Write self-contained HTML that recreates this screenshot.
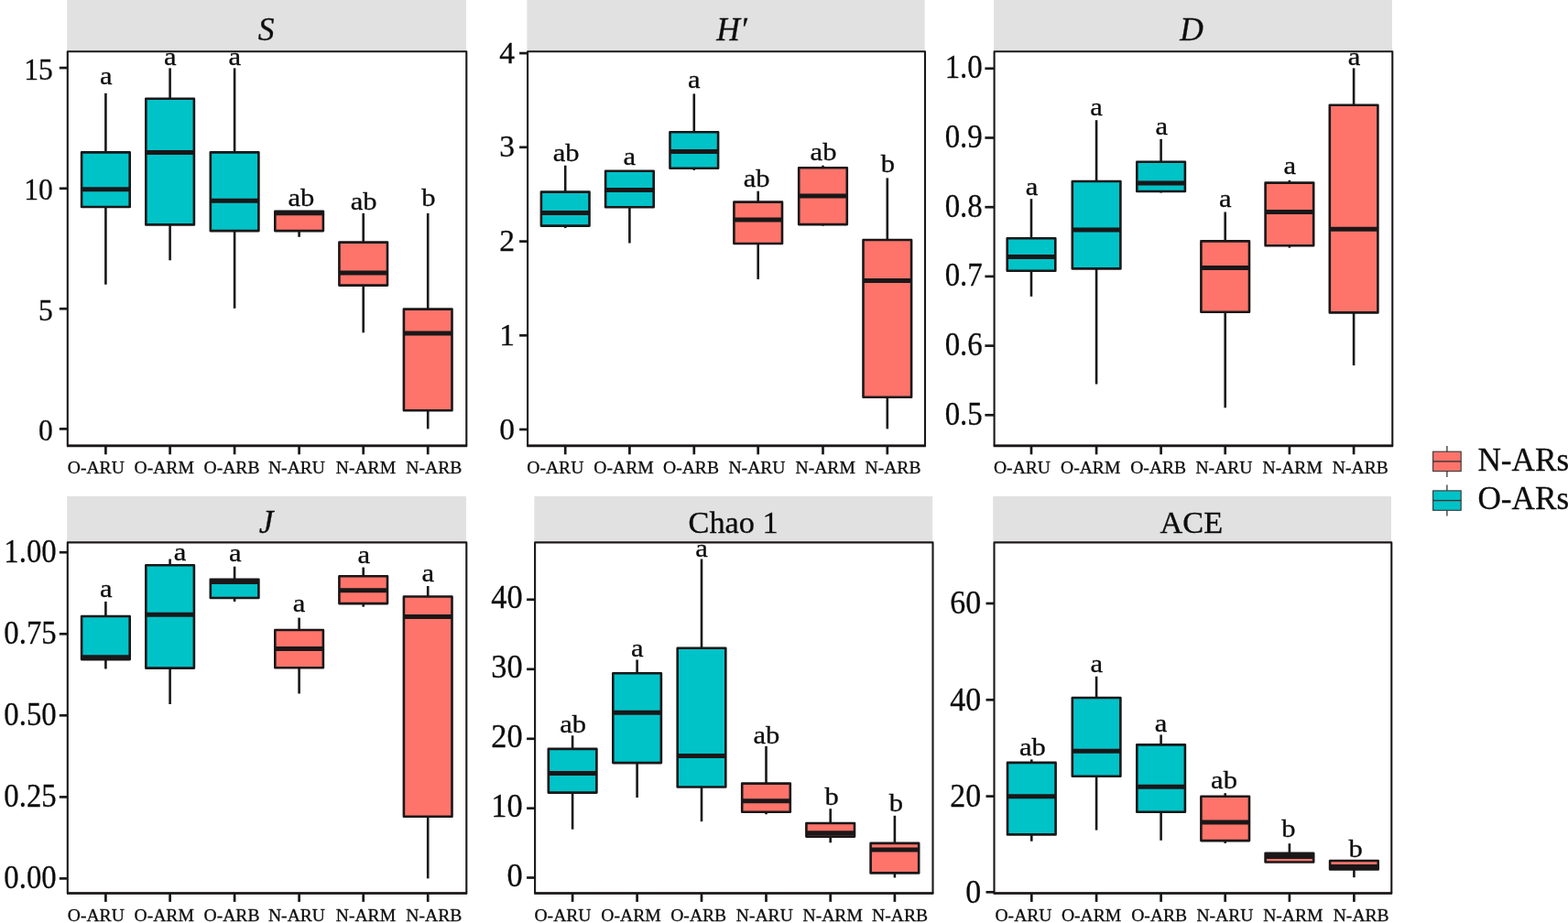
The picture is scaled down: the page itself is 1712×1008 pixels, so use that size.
<!DOCTYPE html>
<html lang="en">
<head>
<meta charset="utf-8">
<title>Diversity indices boxplots</title>
<style>
html,body{margin:0;padding:0;background:#fff;}
body{width:1712px;height:1008px;overflow:hidden;}
svg{display:block;font-family:"Liberation Serif","DejaVu Serif",serif;}
.w{stroke:#1a1718;stroke-width:2.6;fill:none;}
.b{stroke:#1a1718;stroke-width:2.6;stroke-linejoin:round;}
.m{stroke:#1a1718;stroke-width:5.0;}
.t{stroke:#1a1718;stroke-width:2.7;}
text{fill:#0d0d0d;stroke:#0d0d0d;stroke-width:0.3px;}
</style>
</head>
<body>
<svg role="img" aria-label="Box plots of diversity indices (S, H′, D, J, Chao 1, ACE) for O-ARs and N-ARs" width="1712" height="1008" viewBox="0 0 1712 1008">
<rect x="0" y="0" width="1712" height="1008" fill="#fff"/>
<g>
<rect x="73.2" y="0" width="435.8" height="55.6" fill="#E1E1E1"/>
<text x="290.55" y="43.6" font-size="35.5" text-anchor="middle" font-style="italic">S</text>
<rect x="73.8" y="56.2" width="435.5" height="430.7" fill="#fff"/>
<line x1="115.4" x2="115.4" y1="101.8" y2="166.4" class="w"/>
<line x1="115.4" x2="115.4" y1="226" y2="310.7" class="w"/>
<rect x="89.1" y="166.4" width="52.6" height="59.6" fill="#00C3C8" class="b"/>
<line x1="89.1" x2="141.7" y1="206.8" y2="206.8" class="m"/>
<line x1="185.6" x2="185.6" y1="74.4" y2="107.8" class="w"/>
<line x1="185.6" x2="185.6" y1="245.4" y2="284.3" class="w"/>
<rect x="159.3" y="107.8" width="52.6" height="137.6" fill="#00C3C8" class="b"/>
<line x1="159.3" x2="211.9" y1="166.5" y2="166.5" class="m"/>
<line x1="256.1" x2="256.1" y1="74.4" y2="166.4" class="w"/>
<line x1="256.1" x2="256.1" y1="252.1" y2="336.8" class="w"/>
<rect x="229.8" y="166.4" width="52.6" height="85.7" fill="#00C3C8" class="b"/>
<line x1="229.8" x2="282.4" y1="219.3" y2="219.3" class="m"/>
<line x1="326.6" x2="326.6" y1="252.1" y2="258.8" class="w"/>
<rect x="300.3" y="230.8" width="52.6" height="21.3" fill="#FE746B" class="b"/>
<line x1="300.3" x2="352.9" y1="232.8" y2="232.8" class="m"/>
<line x1="396.7" x2="396.7" y1="232.9" y2="264.6" class="w"/>
<line x1="396.7" x2="396.7" y1="311.6" y2="363.3" class="w"/>
<rect x="370.4" y="264.6" width="52.6" height="47" fill="#FE746B" class="b"/>
<line x1="370.4" x2="423" y1="298" y2="298" class="m"/>
<line x1="467.2" x2="467.2" y1="232.9" y2="337.6" class="w"/>
<line x1="467.2" x2="467.2" y1="448.3" y2="468.4" class="w"/>
<rect x="440.9" y="337.6" width="52.6" height="110.7" fill="#FE746B" class="b"/>
<line x1="440.9" x2="493.5" y1="363.9" y2="363.9" class="m"/>
<text transform="translate(115.7 91.8) scale(1.08 1)" font-size="28.3" text-anchor="middle">a</text>
<text transform="translate(185.9 70.6) scale(1.08 1)" font-size="28.3" text-anchor="middle">a</text>
<text transform="translate(256.4 70.6) scale(1.08 1)" font-size="28.3" text-anchor="middle">a</text>
<text transform="translate(328.9 225.4) scale(1.08 1)" font-size="28.3" text-anchor="middle">ab</text>
<text transform="translate(397.1 228.6) scale(1.08 1)" font-size="28.3" text-anchor="middle">ab</text>
<text transform="translate(467.8 225.4) scale(1.08 1)" font-size="28.3" text-anchor="middle">b</text>
<rect x="73.8" y="56.2" width="435.5" height="430.7" fill="none" stroke="#1a1718" stroke-width="2.1" stroke-linejoin="round"/>
<line x1="73" x2="510.1" y1="486.9" y2="486.9" stroke="#1a1718" stroke-width="2.6"/>
<line x1="64.8" x2="73.8" y1="74.1" y2="74.1" class="t"/>
<text transform="translate(57.9 86.6) scale(0.93 1)" font-size="34.0" text-anchor="end">15</text>
<line x1="64.8" x2="73.8" y1="205.8" y2="205.8" class="t"/>
<text transform="translate(57.9 218.3) scale(0.93 1)" font-size="34.0" text-anchor="end">10</text>
<line x1="64.8" x2="73.8" y1="337.2" y2="337.2" class="t"/>
<text transform="translate(57.9 349.7) scale(0.93 1)" font-size="34.0" text-anchor="end">5</text>
<line x1="64.8" x2="73.8" y1="468.4" y2="468.4" class="t"/>
<text transform="translate(57.9 480.9) scale(0.93 1)" font-size="34.0" text-anchor="end">0</text>
<line x1="115.4" x2="115.4" y1="486.9" y2="496.3" class="t"/>
<text x="104.8" y="517.4" font-size="19.6" text-anchor="middle">O-ARU</text>
<line x1="185.6" x2="185.6" y1="486.9" y2="496.3" class="t"/>
<text x="179.2" y="517.4" font-size="19.6" text-anchor="middle">O-ARM</text>
<line x1="256.1" x2="256.1" y1="486.9" y2="496.3" class="t"/>
<text x="253" y="517.4" font-size="19.6" text-anchor="middle">O-ARB</text>
<line x1="326.6" x2="326.6" y1="486.9" y2="496.3" class="t"/>
<text x="324" y="517.4" font-size="19.6" text-anchor="middle">N-ARU</text>
<line x1="396.7" x2="396.7" y1="486.9" y2="496.3" class="t"/>
<text x="399.4" y="517.4" font-size="19.6" text-anchor="middle">N-ARM</text>
<line x1="467.2" x2="467.2" y1="486.9" y2="496.3" class="t"/>
<text x="473.8" y="517.4" font-size="19.6" text-anchor="middle">N-ARB</text>
</g>
<g>
<rect x="575.4" y="0" width="434.3" height="55.6" fill="#E1E1E1"/>
<text x="799.05" y="43.6" font-size="35.5" text-anchor="middle" font-style="italic">H′</text>
<rect x="576.1" y="56.2" width="433.9" height="430.7" fill="#fff"/>
<line x1="617.2" x2="617.2" y1="180.7" y2="209.6" class="w"/>
<line x1="617.2" x2="617.2" y1="246.6" y2="249.1" class="w"/>
<rect x="590.9" y="209.6" width="52.6" height="37" fill="#00C3C8" class="b"/>
<line x1="590.9" x2="643.5" y1="232.4" y2="232.4" class="m"/>
<line x1="687.4" x2="687.4" y1="226.3" y2="265.5" class="w"/>
<rect x="661.1" y="186.8" width="52.6" height="39.5" fill="#00C3C8" class="b"/>
<line x1="661.1" x2="713.7" y1="207.5" y2="207.5" class="m"/>
<line x1="757.8" x2="757.8" y1="102.4" y2="144.3" class="w"/>
<line x1="757.8" x2="757.8" y1="183.8" y2="185.9" class="w"/>
<rect x="731.5" y="144.3" width="52.6" height="39.5" fill="#00C3C8" class="b"/>
<line x1="731.5" x2="784.1" y1="165.5" y2="165.5" class="m"/>
<line x1="827.7" x2="827.7" y1="208.7" y2="220.6" class="w"/>
<line x1="827.7" x2="827.7" y1="266" y2="305" class="w"/>
<rect x="801.4" y="220.6" width="52.6" height="45.4" fill="#FE746B" class="b"/>
<line x1="801.4" x2="854" y1="240" y2="240" class="m"/>
<line x1="898.5" x2="898.5" y1="180.7" y2="183.2" class="w"/>
<line x1="898.5" x2="898.5" y1="245.1" y2="246.6" class="w"/>
<rect x="872.2" y="183.2" width="52.6" height="61.9" fill="#FE746B" class="b"/>
<line x1="872.2" x2="924.8" y1="214.1" y2="214.1" class="m"/>
<line x1="968.8" x2="968.8" y1="194.4" y2="262" class="w"/>
<line x1="968.8" x2="968.8" y1="433.7" y2="468.4" class="w"/>
<rect x="942.5" y="262" width="52.6" height="171.7" fill="#FE746B" class="b"/>
<line x1="942.5" x2="995.1" y1="306.5" y2="306.5" class="m"/>
<text transform="translate(618.2 175.8) scale(1.08 1)" font-size="28.3" text-anchor="middle">ab</text>
<text transform="translate(687.4 179.9) scale(1.08 1)" font-size="28.3" text-anchor="middle">a</text>
<text transform="translate(757.8 95.8) scale(1.08 1)" font-size="28.3" text-anchor="middle">a</text>
<text transform="translate(826.2 203.7) scale(1.08 1)" font-size="28.3" text-anchor="middle">ab</text>
<text transform="translate(899 174.6) scale(1.08 1)" font-size="28.3" text-anchor="middle">ab</text>
<text transform="translate(969.3 187.9) scale(1.08 1)" font-size="28.3" text-anchor="middle">b</text>
<rect x="576.1" y="56.2" width="433.9" height="430.7" fill="none" stroke="#1a1718" stroke-width="2.1" stroke-linejoin="round"/>
<line x1="575.3" x2="1010.8" y1="486.9" y2="486.9" stroke="#1a1718" stroke-width="2.6"/>
<line x1="567.1" x2="576.1" y1="58.1" y2="58.1" class="t"/>
<text transform="translate(562 68.7) scale(1.0 1)" font-size="33.5" text-anchor="end">4</text>
<line x1="567.1" x2="576.1" y1="160.8" y2="160.8" class="t"/>
<text transform="translate(562 171.4) scale(1.0 1)" font-size="33.5" text-anchor="end">3</text>
<line x1="567.1" x2="576.1" y1="263.6" y2="263.6" class="t"/>
<text transform="translate(562 274.2) scale(1.0 1)" font-size="33.5" text-anchor="end">2</text>
<line x1="567.1" x2="576.1" y1="366.3" y2="366.3" class="t"/>
<text transform="translate(562 376.9) scale(1.0 1)" font-size="33.5" text-anchor="end">1</text>
<line x1="567.1" x2="576.1" y1="469" y2="469" class="t"/>
<text transform="translate(562 479.6) scale(1.0 1)" font-size="33.5" text-anchor="end">0</text>
<line x1="617.2" x2="617.2" y1="486.9" y2="496.3" class="t"/>
<text x="606.3" y="517.4" font-size="19.6" text-anchor="middle">O-ARU</text>
<line x1="687.4" x2="687.4" y1="486.9" y2="496.3" class="t"/>
<text x="681" y="517.4" font-size="19.6" text-anchor="middle">O-ARM</text>
<line x1="757.8" x2="757.8" y1="486.9" y2="496.3" class="t"/>
<text x="754.5" y="517.4" font-size="19.6" text-anchor="middle">O-ARB</text>
<line x1="827.7" x2="827.7" y1="486.9" y2="496.3" class="t"/>
<text x="826.5" y="517.4" font-size="19.6" text-anchor="middle">N-ARU</text>
<line x1="898.5" x2="898.5" y1="486.9" y2="496.3" class="t"/>
<text x="901.2" y="517.4" font-size="19.6" text-anchor="middle">N-ARM</text>
<line x1="968.8" x2="968.8" y1="486.9" y2="496.3" class="t"/>
<text x="975" y="517.4" font-size="19.6" text-anchor="middle">N-ARB</text>
</g>
<g>
<rect x="1085" y="0" width="435" height="55.6" fill="#E1E1E1"/>
<text x="1300.95" y="43.6" font-size="35.5" text-anchor="middle" font-style="italic">D</text>
<rect x="1085.6" y="56.2" width="434.7" height="430.7" fill="#fff"/>
<line x1="1126" x2="1126" y1="217.2" y2="260.2" class="w"/>
<line x1="1126" x2="1126" y1="295.8" y2="323.8" class="w"/>
<rect x="1099.7" y="260.2" width="52.6" height="35.6" fill="#00C3C8" class="b"/>
<line x1="1099.7" x2="1152.3" y1="280.4" y2="280.4" class="m"/>
<line x1="1197.1" x2="1197.1" y1="131.2" y2="198" class="w"/>
<line x1="1197.1" x2="1197.1" y1="293.4" y2="419.5" class="w"/>
<rect x="1170.8" y="198" width="52.6" height="95.4" fill="#00C3C8" class="b"/>
<line x1="1170.8" x2="1223.4" y1="250.9" y2="250.9" class="m"/>
<line x1="1267.6" x2="1267.6" y1="151.9" y2="176.8" class="w"/>
<line x1="1267.6" x2="1267.6" y1="209" y2="210.5" class="w"/>
<rect x="1241.3" y="176.8" width="52.6" height="32.2" fill="#00C3C8" class="b"/>
<line x1="1241.3" x2="1293.9" y1="199.9" y2="199.9" class="m"/>
<line x1="1337.7" x2="1337.7" y1="231.5" y2="263.4" class="w"/>
<line x1="1337.7" x2="1337.7" y1="340.8" y2="445.3" class="w"/>
<rect x="1311.4" y="263.4" width="52.6" height="77.4" fill="#FE746B" class="b"/>
<line x1="1311.4" x2="1364" y1="292.5" y2="292.5" class="m"/>
<line x1="1407.9" x2="1407.9" y1="196.8" y2="199.6" class="w"/>
<line x1="1407.9" x2="1407.9" y1="268.2" y2="270.6" class="w"/>
<rect x="1381.6" y="199.6" width="52.6" height="68.6" fill="#FE746B" class="b"/>
<line x1="1381.6" x2="1434.2" y1="231.5" y2="231.5" class="m"/>
<line x1="1478.1" x2="1478.1" y1="74.4" y2="114.8" class="w"/>
<line x1="1478.1" x2="1478.1" y1="341.4" y2="399.1" class="w"/>
<rect x="1451.8" y="114.8" width="52.6" height="226.6" fill="#FE746B" class="b"/>
<line x1="1451.8" x2="1504.4" y1="250.3" y2="250.3" class="m"/>
<text transform="translate(1126.5 212.7) scale(1.08 1)" font-size="28.3" text-anchor="middle">a</text>
<text transform="translate(1197.1 126.4) scale(1.08 1)" font-size="28.3" text-anchor="middle">a</text>
<text transform="translate(1268.4 147.4) scale(1.08 1)" font-size="28.3" text-anchor="middle">a</text>
<text transform="translate(1337.7 225.5) scale(1.08 1)" font-size="28.3" text-anchor="middle">a</text>
<text transform="translate(1408.3 189.6) scale(1.08 1)" font-size="28.3" text-anchor="middle">a</text>
<text transform="translate(1478.6 70.6) scale(1.08 1)" font-size="28.3" text-anchor="middle">a</text>
<rect x="1085.6" y="56.2" width="434.7" height="430.7" fill="none" stroke="#1a1718" stroke-width="2.1" stroke-linejoin="round"/>
<line x1="1084.8" x2="1521.1" y1="486.9" y2="486.9" stroke="#1a1718" stroke-width="2.6"/>
<line x1="1075.4" x2="1085.6" y1="74.8" y2="74.8" class="t"/>
<text transform="translate(1072.8 85.3) scale(0.94 1)" font-size="35.0" text-anchor="end">1.0</text>
<line x1="1075.4" x2="1085.6" y1="150.5" y2="150.5" class="t"/>
<text transform="translate(1072.8 161) scale(0.94 1)" font-size="35.0" text-anchor="end">0.9</text>
<line x1="1075.4" x2="1085.6" y1="226.2" y2="226.2" class="t"/>
<text transform="translate(1072.8 236.7) scale(0.94 1)" font-size="35.0" text-anchor="end">0.8</text>
<line x1="1075.4" x2="1085.6" y1="301.9" y2="301.9" class="t"/>
<text transform="translate(1072.8 312.4) scale(0.94 1)" font-size="35.0" text-anchor="end">0.7</text>
<line x1="1075.4" x2="1085.6" y1="377.6" y2="377.6" class="t"/>
<text transform="translate(1072.8 388.1) scale(0.94 1)" font-size="35.0" text-anchor="end">0.6</text>
<line x1="1075.4" x2="1085.6" y1="453.3" y2="453.3" class="t"/>
<text transform="translate(1072.8 463.8) scale(0.94 1)" font-size="35.0" text-anchor="end">0.5</text>
<line x1="1126" x2="1126" y1="486.9" y2="496.3" class="t"/>
<text x="1116" y="517.4" font-size="19.6" text-anchor="middle">O-ARU</text>
<line x1="1197.1" x2="1197.1" y1="486.9" y2="496.3" class="t"/>
<text x="1190.7" y="517.4" font-size="19.6" text-anchor="middle">O-ARM</text>
<line x1="1267.6" x2="1267.6" y1="486.9" y2="496.3" class="t"/>
<text x="1264.7" y="517.4" font-size="19.6" text-anchor="middle">O-ARB</text>
<line x1="1337.7" x2="1337.7" y1="486.9" y2="496.3" class="t"/>
<text x="1336.5" y="517.4" font-size="19.6" text-anchor="middle">N-ARU</text>
<line x1="1407.9" x2="1407.9" y1="486.9" y2="496.3" class="t"/>
<text x="1411.2" y="517.4" font-size="19.6" text-anchor="middle">N-ARM</text>
<line x1="1478.1" x2="1478.1" y1="486.9" y2="496.3" class="t"/>
<text x="1485.3" y="517.4" font-size="19.6" text-anchor="middle">N-ARB</text>
</g>
<g>
<rect x="73.2" y="542" width="435.8" height="49.2" fill="#E1E1E1"/>
<text x="290.55" y="582.4" font-size="35.5" text-anchor="middle" font-style="italic">J</text>
<rect x="73.8" y="592.4" width="435.5" height="383.1" fill="#fff"/>
<line x1="115.4" x2="115.4" y1="657" y2="673" class="w"/>
<line x1="115.4" x2="115.4" y1="720.1" y2="730.5" class="w"/>
<rect x="89.1" y="673" width="52.6" height="47.1" fill="#00C3C8" class="b"/>
<line x1="89.1" x2="141.7" y1="717.7" y2="717.7" class="m"/>
<line x1="185.6" x2="185.6" y1="610.5" y2="617.2" class="w"/>
<line x1="185.6" x2="185.6" y1="729.6" y2="769" class="w"/>
<rect x="159.3" y="617.2" width="52.6" height="112.4" fill="#00C3C8" class="b"/>
<line x1="159.3" x2="211.9" y1="671.2" y2="671.2" class="m"/>
<line x1="256.1" x2="256.1" y1="618.7" y2="632.7" class="w"/>
<line x1="256.1" x2="256.1" y1="653" y2="657" class="w"/>
<rect x="229.8" y="632.7" width="52.6" height="20.3" fill="#00C3C8" class="b"/>
<line x1="229.8" x2="282.4" y1="635.4" y2="635.4" class="m"/>
<line x1="326.6" x2="326.6" y1="674.6" y2="688" class="w"/>
<line x1="326.6" x2="326.6" y1="729.3" y2="757.5" class="w"/>
<rect x="300.3" y="688" width="52.6" height="41.3" fill="#FE746B" class="b"/>
<line x1="300.3" x2="352.9" y1="708.6" y2="708.6" class="m"/>
<line x1="396.7" x2="396.7" y1="619.6" y2="629.3" class="w"/>
<line x1="396.7" x2="396.7" y1="659.1" y2="662.7" class="w"/>
<rect x="370.4" y="629.3" width="52.6" height="29.8" fill="#FE746B" class="b"/>
<line x1="370.4" x2="423" y1="644.8" y2="644.8" class="m"/>
<line x1="467.2" x2="467.2" y1="640" y2="651.5" class="w"/>
<line x1="467.2" x2="467.2" y1="891.7" y2="959.4" class="w"/>
<rect x="440.9" y="651.5" width="52.6" height="240.2" fill="#FE746B" class="b"/>
<line x1="440.9" x2="493.5" y1="673.4" y2="673.4" class="m"/>
<text transform="translate(115.7 651.6) scale(1.08 1)" font-size="28.3" text-anchor="middle">a</text>
<text transform="translate(196.6 611.8) scale(1.08 1)" font-size="28.3" text-anchor="middle">a</text>
<text transform="translate(256.7 613.4) scale(1.08 1)" font-size="28.3" text-anchor="middle">a</text>
<text transform="translate(326.6 668.4) scale(1.08 1)" font-size="28.3" text-anchor="middle">a</text>
<text transform="translate(397.2 615) scale(1.08 1)" font-size="28.3" text-anchor="middle">a</text>
<text transform="translate(467.2 635.2) scale(1.08 1)" font-size="28.3" text-anchor="middle">a</text>
<rect x="73.8" y="592.4" width="435.5" height="383.1" fill="none" stroke="#1a1718" stroke-width="2.1" stroke-linejoin="round"/>
<line x1="73" x2="510.1" y1="975.5" y2="975.5" stroke="#1a1718" stroke-width="2.6"/>
<line x1="64.8" x2="73.8" y1="603.2" y2="603.2" class="t"/>
<text transform="translate(61.6 614.1) scale(0.94 1)" font-size="34.8" text-anchor="end">1.00</text>
<line x1="64.8" x2="73.8" y1="692.3" y2="692.3" class="t"/>
<text transform="translate(61.6 703.2) scale(0.94 1)" font-size="34.8" text-anchor="end">0.75</text>
<line x1="64.8" x2="73.8" y1="781.3" y2="781.3" class="t"/>
<text transform="translate(61.6 792.2) scale(0.94 1)" font-size="34.8" text-anchor="end">0.50</text>
<line x1="64.8" x2="73.8" y1="870.4" y2="870.4" class="t"/>
<text transform="translate(61.6 881.3) scale(0.94 1)" font-size="34.8" text-anchor="end">0.25</text>
<line x1="64.8" x2="73.8" y1="959.4" y2="959.4" class="t"/>
<text transform="translate(61.6 970.3) scale(0.94 1)" font-size="34.8" text-anchor="end">0.00</text>
<line x1="115.4" x2="115.4" y1="975.5" y2="984.9" class="t"/>
<text x="104.8" y="1006" font-size="19.6" text-anchor="middle">O-ARU</text>
<line x1="185.6" x2="185.6" y1="975.5" y2="984.9" class="t"/>
<text x="179.2" y="1006" font-size="19.6" text-anchor="middle">O-ARM</text>
<line x1="256.1" x2="256.1" y1="975.5" y2="984.9" class="t"/>
<text x="253" y="1006" font-size="19.6" text-anchor="middle">O-ARB</text>
<line x1="326.6" x2="326.6" y1="975.5" y2="984.9" class="t"/>
<text x="324" y="1006" font-size="19.6" text-anchor="middle">N-ARU</text>
<line x1="396.7" x2="396.7" y1="975.5" y2="984.9" class="t"/>
<text x="399.4" y="1006" font-size="19.6" text-anchor="middle">N-ARM</text>
<line x1="467.2" x2="467.2" y1="975.5" y2="984.9" class="t"/>
<text x="473.8" y="1006" font-size="19.6" text-anchor="middle">N-ARB</text>
</g>
<g>
<rect x="583.3" y="542" width="434.9" height="49.2" fill="#E1E1E1"/>
<text x="800.6" y="582.2" font-size="34.3" text-anchor="middle">Chao 1</text>
<rect x="584.1" y="592.4" width="434.4" height="383.1" fill="#fff"/>
<line x1="625.1" x2="625.1" y1="803.3" y2="817.9" class="w"/>
<line x1="625.1" x2="625.1" y1="865.6" y2="905.7" class="w"/>
<rect x="598.8" y="817.9" width="52.6" height="47.7" fill="#00C3C8" class="b"/>
<line x1="598.8" x2="651.4" y1="844.6" y2="844.6" class="m"/>
<line x1="695.6" x2="695.6" y1="720.5" y2="735.3" class="w"/>
<line x1="695.6" x2="695.6" y1="833.1" y2="871" class="w"/>
<rect x="669.3" y="735.3" width="52.6" height="97.8" fill="#00C3C8" class="b"/>
<line x1="669.3" x2="721.9" y1="778.3" y2="778.3" class="m"/>
<line x1="766" x2="766" y1="610.5" y2="707.7" class="w"/>
<line x1="766" x2="766" y1="859.5" y2="897.2" class="w"/>
<rect x="739.7" y="707.7" width="52.6" height="151.8" fill="#00C3C8" class="b"/>
<line x1="739.7" x2="792.3" y1="825.5" y2="825.5" class="m"/>
<line x1="836.5" x2="836.5" y1="814.9" y2="855.6" class="w"/>
<line x1="836.5" x2="836.5" y1="886.8" y2="889.3" class="w"/>
<rect x="810.2" y="855.6" width="52.6" height="31.2" fill="#FE746B" class="b"/>
<line x1="810.2" x2="862.8" y1="874.7" y2="874.7" class="m"/>
<line x1="906.7" x2="906.7" y1="883.2" y2="899" class="w"/>
<line x1="906.7" x2="906.7" y1="913.6" y2="920.3" class="w"/>
<rect x="880.4" y="899" width="52.6" height="14.6" fill="#FE746B" class="b"/>
<line x1="880.4" x2="933" y1="909.7" y2="909.7" class="m"/>
<line x1="976.9" x2="976.9" y1="890.8" y2="920.9" class="w"/>
<line x1="976.9" x2="976.9" y1="953.4" y2="958.5" class="w"/>
<rect x="950.6" y="920.9" width="52.6" height="32.5" fill="#FE746B" class="b"/>
<line x1="950.6" x2="1003.2" y1="928" y2="928" class="m"/>
<text transform="translate(625.6 799.8) scale(1.08 1)" font-size="28.3" text-anchor="middle">ab</text>
<text transform="translate(695.9 717.4) scale(1.08 1)" font-size="28.3" text-anchor="middle">a</text>
<text transform="translate(766 608) scale(1.08 1)" font-size="28.3" text-anchor="middle">a</text>
<text transform="translate(836.8 812) scale(1.08 1)" font-size="28.3" text-anchor="middle">ab</text>
<text transform="translate(908.2 878.6) scale(1.08 1)" font-size="28.3" text-anchor="middle">b</text>
<text transform="translate(978.4 886.3) scale(1.08 1)" font-size="28.3" text-anchor="middle">b</text>
<rect x="584.1" y="592.4" width="434.4" height="383.1" fill="none" stroke="#1a1718" stroke-width="2.1" stroke-linejoin="round"/>
<line x1="583.3" x2="1019.3" y1="975.5" y2="975.5" stroke="#1a1718" stroke-width="2.6"/>
<line x1="575.1" x2="584.1" y1="654.8" y2="654.8" class="t"/>
<text transform="translate(570.6 664.2) scale(0.98 1)" font-size="35.0" text-anchor="end">40</text>
<line x1="575.1" x2="584.1" y1="730.8" y2="730.8" class="t"/>
<text transform="translate(570.6 740.2) scale(0.98 1)" font-size="35.0" text-anchor="end">30</text>
<line x1="575.1" x2="584.1" y1="806.8" y2="806.8" class="t"/>
<text transform="translate(570.6 816.2) scale(0.98 1)" font-size="35.0" text-anchor="end">20</text>
<line x1="575.1" x2="584.1" y1="882.7" y2="882.7" class="t"/>
<text transform="translate(570.6 892.1) scale(0.98 1)" font-size="35.0" text-anchor="end">10</text>
<line x1="575.1" x2="584.1" y1="958.5" y2="958.5" class="t"/>
<text transform="translate(570.6 967.9) scale(0.98 1)" font-size="35.0" text-anchor="end">0</text>
<line x1="625.1" x2="625.1" y1="975.5" y2="984.9" class="t"/>
<text x="614.5" y="1006" font-size="19.6" text-anchor="middle">O-ARU</text>
<line x1="695.6" x2="695.6" y1="975.5" y2="984.9" class="t"/>
<text x="689" y="1006" font-size="19.6" text-anchor="middle">O-ARM</text>
<line x1="766" x2="766" y1="975.5" y2="984.9" class="t"/>
<text x="762.7" y="1006" font-size="19.6" text-anchor="middle">O-ARB</text>
<line x1="836.5" x2="836.5" y1="975.5" y2="984.9" class="t"/>
<text x="834.8" y="1006" font-size="19.6" text-anchor="middle">N-ARU</text>
<line x1="906.7" x2="906.7" y1="975.5" y2="984.9" class="t"/>
<text x="909.2" y="1006" font-size="19.6" text-anchor="middle">N-ARM</text>
<line x1="976.9" x2="976.9" y1="975.5" y2="984.9" class="t"/>
<text x="982.6" y="1006" font-size="19.6" text-anchor="middle">N-ARB</text>
</g>
<g>
<rect x="1084.2" y="542" width="434.8" height="49.2" fill="#E1E1E1"/>
<text x="1300.9" y="582.2" font-size="34.3" text-anchor="middle">ACE</text>
<rect x="1085.5" y="592.4" width="433.8" height="383.1" fill="#fff"/>
<line x1="1126.3" x2="1126.3" y1="829.4" y2="832.9" class="w"/>
<line x1="1126.3" x2="1126.3" y1="911.4" y2="918.7" class="w"/>
<rect x="1100" y="832.9" width="52.6" height="78.5" fill="#00C3C8" class="b"/>
<line x1="1100" x2="1152.6" y1="869.8" y2="869.8" class="m"/>
<line x1="1197.1" x2="1197.1" y1="738.7" y2="762" class="w"/>
<line x1="1197.1" x2="1197.1" y1="847.7" y2="906.6" class="w"/>
<rect x="1170.8" y="762" width="52.6" height="85.7" fill="#00C3C8" class="b"/>
<line x1="1170.8" x2="1223.4" y1="820.3" y2="820.3" class="m"/>
<line x1="1267.6" x2="1267.6" y1="802.4" y2="813.4" class="w"/>
<line x1="1267.6" x2="1267.6" y1="886.8" y2="917.8" class="w"/>
<rect x="1241.3" y="813.4" width="52.6" height="73.4" fill="#00C3C8" class="b"/>
<line x1="1241.3" x2="1293.9" y1="859.2" y2="859.2" class="m"/>
<line x1="1337.7" x2="1337.7" y1="866.2" y2="869.8" class="w"/>
<line x1="1337.7" x2="1337.7" y1="918.1" y2="920.9" class="w"/>
<rect x="1311.4" y="869.8" width="52.6" height="48.3" fill="#FE746B" class="b"/>
<line x1="1311.4" x2="1364" y1="898.1" y2="898.1" class="m"/>
<line x1="1407.9" x2="1407.9" y1="921.2" y2="931.8" class="w"/>
<rect x="1381.6" y="931.8" width="52.6" height="9.7" fill="#FE746B" class="b"/>
<line x1="1381.6" x2="1434.2" y1="935.4" y2="935.4" class="m"/>
<line x1="1478.4" x2="1478.4" y1="949.4" y2="958.2" class="w"/>
<rect x="1452.1" y="940" width="52.6" height="9.4" fill="#FE746B" class="b"/>
<line x1="1452.1" x2="1504.7" y1="946.4" y2="946.4" class="m"/>
<text transform="translate(1127.3 825.4) scale(1.08 1)" font-size="28.3" text-anchor="middle">ab</text>
<text transform="translate(1197.4 733.8) scale(1.08 1)" font-size="28.3" text-anchor="middle">a</text>
<text transform="translate(1267.6 799.2) scale(1.08 1)" font-size="28.3" text-anchor="middle">a</text>
<text transform="translate(1336.5 861.2) scale(1.08 1)" font-size="28.3" text-anchor="middle">ab</text>
<text transform="translate(1406.9 914) scale(1.08 1)" font-size="28.3" text-anchor="middle">b</text>
<text transform="translate(1480.2 936) scale(1.08 1)" font-size="28.3" text-anchor="middle">b</text>
<rect x="1085.5" y="592.4" width="433.8" height="383.1" fill="none" stroke="#1a1718" stroke-width="2.1" stroke-linejoin="round"/>
<line x1="1084.7" x2="1520.1" y1="975.5" y2="975.5" stroke="#1a1718" stroke-width="2.6"/>
<line x1="1076.5" x2="1085.5" y1="659" y2="659" class="t"/>
<text transform="translate(1071.3 670.3) scale(0.97 1)" font-size="35.0" text-anchor="end">60</text>
<line x1="1076.5" x2="1085.5" y1="764.3" y2="764.3" class="t"/>
<text transform="translate(1071.3 775.6) scale(0.97 1)" font-size="35.0" text-anchor="end">40</text>
<line x1="1076.5" x2="1085.5" y1="869.6" y2="869.6" class="t"/>
<text transform="translate(1071.3 880.9) scale(0.97 1)" font-size="35.0" text-anchor="end">20</text>
<line x1="1076.5" x2="1085.5" y1="974.3" y2="974.3" class="t"/>
<text transform="translate(1071.3 985.6) scale(0.97 1)" font-size="35.0" text-anchor="end">0</text>
<line x1="1126.3" x2="1126.3" y1="975.5" y2="984.9" class="t"/>
<text x="1117.5" y="1006" font-size="19.6" text-anchor="middle">O-ARU</text>
<line x1="1197.1" x2="1197.1" y1="975.5" y2="984.9" class="t"/>
<text x="1191.6" y="1006" font-size="19.6" text-anchor="middle">O-ARM</text>
<line x1="1267.6" x2="1267.6" y1="975.5" y2="984.9" class="t"/>
<text x="1265.7" y="1006" font-size="19.6" text-anchor="middle">O-ARB</text>
<line x1="1337.7" x2="1337.7" y1="975.5" y2="984.9" class="t"/>
<text x="1337.4" y="1006" font-size="19.6" text-anchor="middle">N-ARU</text>
<line x1="1407.9" x2="1407.9" y1="975.5" y2="984.9" class="t"/>
<text x="1411.8" y="1006" font-size="19.6" text-anchor="middle">N-ARM</text>
<line x1="1478.4" x2="1478.4" y1="975.5" y2="984.9" class="t"/>
<text x="1486.2" y="1006" font-size="19.6" text-anchor="middle">N-ARB</text>
</g>
<g>
<line x1="1579.9" x2="1579.9" y1="486.9" y2="520.9" stroke="#3a3435" stroke-width="1.3"/>
<rect x="1564.6" y="493.2" width="30.6" height="21.4" fill="#FE746B" stroke="#3a3435" stroke-width="1.1"/>
<line x1="1564.6" x2="1595.2" y1="503.9" y2="503.9" stroke="#3a3435" stroke-width="1.4"/>
<line x1="1579.9" x2="1579.9" y1="529.6" y2="563.6" stroke="#3a3435" stroke-width="1.3"/>
<rect x="1564.6" y="535.9" width="30.6" height="21.4" fill="#00C3C8" stroke="#3a3435" stroke-width="1.1"/>
<line x1="1564.6" x2="1595.2" y1="546.6" y2="546.6" stroke="#3a3435" stroke-width="1.4"/>
<text x="1613.4" y="513.6" font-size="35.2">N-ARs</text>
<text x="1613.4" y="556.2" font-size="35.2">O-ARs</text>
</g>
</svg>
</body>
</html>
